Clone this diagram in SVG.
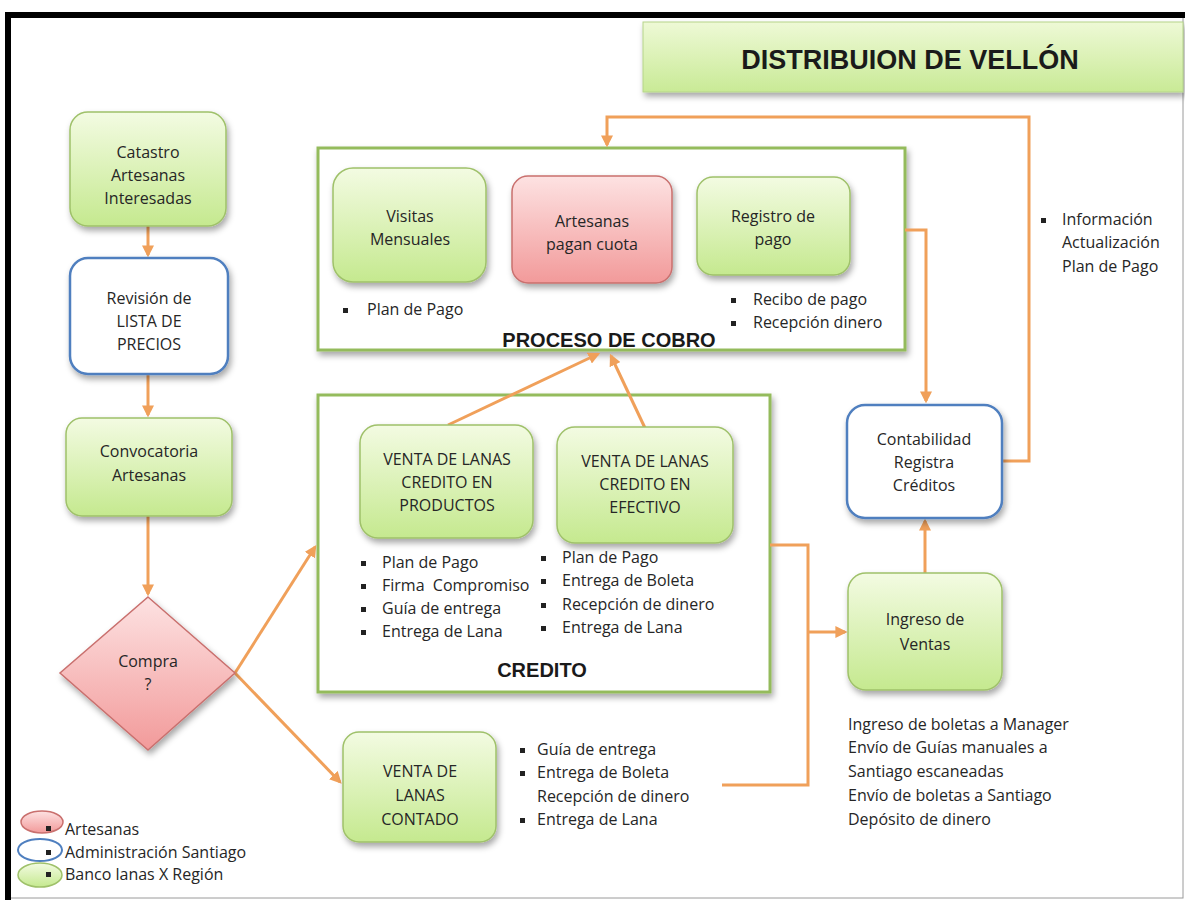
<svg xmlns="http://www.w3.org/2000/svg" width="1185" height="900" viewBox="0 0 1185 900">
<defs>
<linearGradient id="gGreen" x1="0" y1="0" x2="0" y2="1">
<stop offset="0" stop-color="#f3fbe2"/>
<stop offset="1" stop-color="#c5e98f"/>
</linearGradient>
<linearGradient id="gPink" x1="0" y1="0" x2="0" y2="1">
<stop offset="0" stop-color="#fde2e2"/>
<stop offset="1" stop-color="#f29a9a"/>
</linearGradient>
<linearGradient id="gTitle" x1="0" y1="0" x2="0" y2="1">
<stop offset="0" stop-color="#eef9d6"/>
<stop offset="1" stop-color="#c9ea96"/>
</linearGradient>
<filter id="sh" x="-10%" y="-10%" width="130%" height="140%">
<feDropShadow dx="2" dy="4" stdDeviation="3" flood-color="#000" flood-opacity="0.35"/>
</filter>
<marker id="arr" viewBox="0 0 10 10" refX="8" refY="5" markerWidth="4" markerHeight="4" orient="auto">
<path d="M0,0 L10,5 L0,10 z" fill="#f0a05a"/>
</marker>
<style>
text{font-family:"Open Sans","Liberation Sans",Arial,sans-serif;fill:#262626;font-size:16px}
.c{text-anchor:middle}
.b{font-family:"Liberation Sans",Arial,sans-serif;font-weight:bold;font-size:20px;fill:#1a1a1a}
.green{fill:url(#gGreen);stroke:#9fc16a;stroke-width:1.5;filter:url(#sh)}
.pink{fill:url(#gPink);stroke:#c9706e;stroke-width:1.5;filter:url(#sh)}
.blue{fill:#fff;stroke:#4f7fbf;stroke-width:2.5;filter:url(#sh)}
.cont{fill:#fff;stroke:#94bb5c;stroke-width:3;filter:url(#sh)}
.con{fill:none;stroke:#f0a05a;stroke-width:3}
.bul{fill:#222}
</style>
</defs>
<rect x="0" y="0" width="1185" height="900" fill="#fff"/>
<rect x="9" y="16" width="1174" height="882" fill="#fff" stroke="#9a9a9a" stroke-width="1"/>
<line x1="5" y1="15" x2="1185" y2="15" stroke="#000" stroke-width="6"/>
<line x1="8" y1="12" x2="8" y2="900" stroke="#000" stroke-width="6"/>

<g id="title">
<rect x="643" y="22" width="540" height="70" fill="url(#gTitle)" stroke="#b5d48a" stroke-width="1" filter="url(#sh)"/>
<text x="910" y="69" class="c" style="font-family:'Liberation Sans',Arial,sans-serif;font-weight:bold;font-size:27px;fill:#1a1a1a">DISTRIBUION DE VELLÓN</text>
</g>

<g id="proceso-cobro">
<rect x="318" y="148" width="587" height="202" class="cont"/>
<text x="609" y="347" class="c b">PROCESO DE COBRO</text>
</g>
<g id="credito">
<rect x="318" y="395" width="452" height="297" class="cont"/>
<text x="542" y="677" class="c b">CREDITO</text>
</g>

<g id="connectors">
<path class="con" d="M148,226 V255" marker-end="url(#arr)"/>
<path class="con" d="M148,374 V415" marker-end="url(#arr)"/>
<path class="con" d="M148,516 V594" marker-end="url(#arr)"/>
<path class="con" d="M235,673 L315,547" marker-end="url(#arr)"/>
<path class="con" d="M235,673 L340,782" marker-end="url(#arr)"/>
<path class="con" d="M448,425 L598,354" marker-end="url(#arr)"/>
<path class="con" d="M645,428 L611,356" marker-end="url(#arr)"/>
<path class="con" d="M905,230 H926 V401" marker-end="url(#arr)"/>
<path class="con" d="M1002,461 H1029 V117 H607 V145" marker-end="url(#arr)"/>
<path class="con" d="M770,545 H808 V785 H722"/>
<path class="con" d="M808,632 H845" marker-end="url(#arr)"/>
<path class="con" d="M925,573 V521" marker-end="url(#arr)"/>
</g>

<g id="catastro">
<rect x="70" y="112" width="156" height="114" rx="18" class="green"/>
<text x="148" y="158" class="c">Catastro</text>
<text x="148" y="181" class="c">Artesanas</text>
<text x="148" y="204" class="c">Interesadas</text>
</g>
<g id="revision">
<rect x="70" y="258" width="158" height="116" rx="18" class="blue"/>
<text x="149" y="304" class="c">Revisión de</text>
<text x="149" y="327" class="c">LISTA DE</text>
<text x="149" y="350" class="c">PRECIOS</text>
</g>
<g id="convocatoria">
<rect x="66" y="418" width="166" height="98" rx="16" class="green"/>
<text x="149" y="457" class="c">Convocatoria</text>
<text x="149" y="481" class="c">Artesanas</text>
</g>
<g id="compra">
<polygon points="148,597 235,673 148,750 60,673" class="pink"/>
<text x="148" y="667" class="c">Compra</text>
<text x="148" y="690" class="c">?</text>
</g>

<g id="visitas">
<rect x="333" y="168" width="153" height="114" rx="20" class="green"/>
<text x="410" y="222" class="c">Visitas</text>
<text x="410" y="245" class="c">Mensuales</text>
<rect x="343" y="308" width="5" height="5" class="bul"/>
<text x="367" y="315">Plan de Pago</text>
</g>
<g id="artesanas-pagan">
<rect x="512" y="176" width="160" height="107" rx="16" class="pink"/>
<text x="592" y="227" class="c">Artesanas</text>
<text x="592" y="250" class="c">pagan cuota</text>
</g>
<g id="registro">
<rect x="697" y="177" width="153" height="98" rx="16" class="green"/>
<text x="773" y="222" class="c">Registro de</text>
<text x="773" y="245" class="c">pago</text>
<rect x="731" y="298" width="5" height="5" class="bul"/>
<text x="753" y="305">Recibo de pago</text>
<rect x="731" y="321" width="5" height="5" class="bul"/>
<text x="753" y="328">Recepción dinero</text>
</g>

<g id="venta-productos">
<rect x="360" y="425" width="173" height="113" rx="18" class="green"/>
<text x="447" y="465" class="c">VENTA DE LANAS</text>
<text x="447" y="488" class="c">CREDITO EN</text>
<text x="447" y="511" class="c">PRODUCTOS</text>
<rect x="361" y="561" width="5" height="5" class="bul"/>
<text x="382" y="568">Plan de Pago</text>
<rect x="361" y="584" width="5" height="5" class="bul"/>
<text x="382" y="591" xml:space="preserve">Firma  Compromiso</text>
<rect x="361" y="607" width="5" height="5" class="bul"/>
<text x="382" y="614">Guía de entrega</text>
<rect x="361" y="630" width="5" height="5" class="bul"/>
<text x="382" y="637">Entrega de Lana</text>
</g>
<g id="venta-efectivo">
<rect x="557" y="427" width="176" height="116" rx="18" class="green"/>
<text x="645" y="467" class="c">VENTA DE LANAS</text>
<text x="645" y="490" class="c">CREDITO EN</text>
<text x="645" y="513" class="c">EFECTIVO</text>
<rect x="541" y="556" width="5" height="5" class="bul"/>
<text x="562" y="563">Plan de Pago</text>
<rect x="541" y="579" width="5" height="5" class="bul"/>
<text x="562" y="586">Entrega de Boleta</text>
<rect x="541" y="603" width="5" height="5" class="bul"/>
<text x="562" y="610">Recepción de dinero</text>
<rect x="541" y="626" width="5" height="5" class="bul"/>
<text x="562" y="633">Entrega de Lana</text>
</g>

<g id="venta-contado">
<rect x="343" y="732" width="153" height="110" rx="16" class="green"/>
<text x="420" y="777" class="c">VENTA DE</text>
<text x="420" y="801" class="c">LANAS</text>
<text x="420" y="825" class="c">CONTADO</text>
<rect x="520" y="748" width="5" height="5" class="bul"/>
<text x="537" y="755">Guía de entrega</text>
<rect x="520" y="771" width="5" height="5" class="bul"/>
<text x="537" y="778">Entrega de Boleta</text>
<text x="537" y="802">Recepción de dinero</text>
<rect x="520" y="818" width="5" height="5" class="bul"/>
<text x="537" y="825">Entrega de Lana</text>
</g>

<g id="contabilidad">
<rect x="847" y="405" width="155" height="113" rx="18" class="blue"/>
<text x="924" y="445" class="c">Contabilidad</text>
<text x="924" y="468" class="c">Registra</text>
<text x="924" y="491" class="c">Créditos</text>
</g>
<g id="info">
<rect x="1041" y="218" width="5" height="5" class="bul"/>
<text x="1062" y="225">Información</text>
<text x="1062" y="248">Actualización</text>
<text x="1062" y="272">Plan de Pago</text>
</g>
<g id="ingreso">
<rect x="848" y="573" width="154" height="117" rx="18" class="green"/>
<text x="925" y="625" class="c">Ingreso de</text>
<text x="925" y="650" class="c">Ventas</text>
<text x="848" y="730">Ingreso de boletas a Manager</text>
<text x="848" y="753">Envío de Guías manuales a</text>
<text x="848" y="777">Santiago escaneadas</text>
<text x="848" y="801">Envío de boletas a Santiago</text>
<text x="848" y="825">Depósito de dinero</text>
</g>

<g id="legend">
<ellipse cx="42" cy="822" rx="21" ry="11" fill="url(#gPink)" stroke="#c9706e" stroke-width="1.5"/>
<ellipse cx="40" cy="850" rx="22" ry="11" fill="#fff" stroke="#4f7fbf" stroke-width="2"/>
<ellipse cx="40" cy="875" rx="22" ry="12" fill="url(#gGreen)" stroke="#9fc16a" stroke-width="1.5"/>
<rect x="46" y="826" width="5" height="5" class="bul"/>
<rect x="46" y="850" width="5" height="5" class="bul"/>
<rect x="46" y="872" width="5" height="5" class="bul"/>
<text x="65" y="835">Artesanas</text>
<text x="65" y="858">Administración Santiago</text>
<text x="65" y="880">Banco lanas X Región</text>
</g>
</svg>
